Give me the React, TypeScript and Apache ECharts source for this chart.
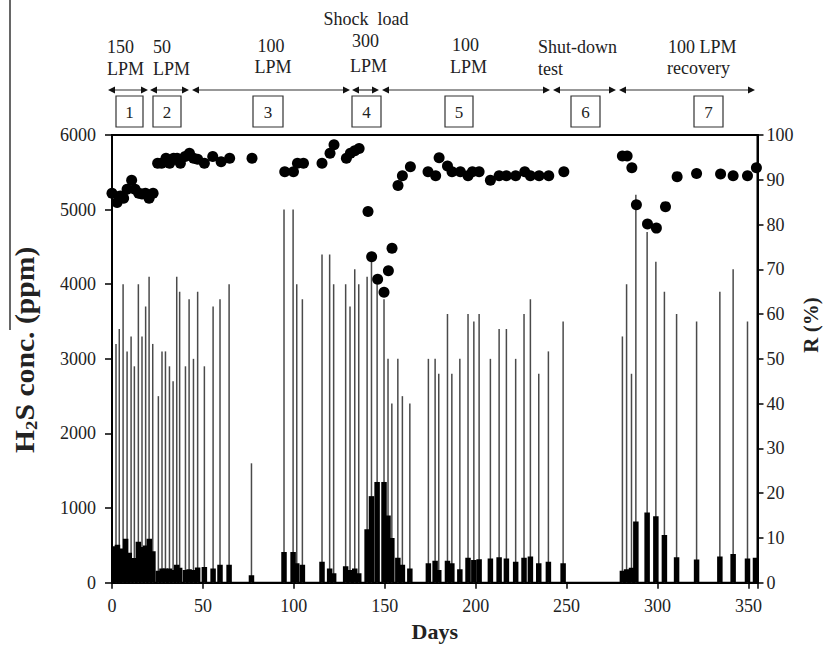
import React, { useEffect, useRef } from 'react';
import * as echarts from 'echarts';

// Inlet H2S concentration (ppm) — thin lines: [day, ppm]
const inletData: [number, number][] = [
  [2.2, 3200], [4, 3400], [6.1, 4000], [8.3, 3100], [10.5, 3300], [12.3, 2900], [14.5, 4000],
  [16.5, 3300], [18.5, 3700], [20.4, 4100], [22.4, 3200], [25.5, 2500], [27.5, 3100], [29.4, 3100],
  [31.6, 2900], [33.6, 2700], [35.6, 4100], [37.2, 3900], [40.4, 2900], [42.4, 3800], [44.8, 3000],
  [47.1, 3900], [50.8, 2900], [55.6, 3700], [59.4, 3800], [64.4, 4000], [76.7, 1600], [94.6, 5000],
  [99.6, 5000], [101.6, 4000], [104.7, 3800], [115.5, 4400], [119.7, 4400], [121.9, 4000],
  [128.5, 4000], [130.9, 3700], [133.5, 4200], [135.7, 4000], [140.3, 4100], [142.7, 4300],
  [145.8, 4000], [149.6, 3800], [151.8, 3000], [153.9, 2400], [157.2, 3000], [159.7, 2500],
  [163.8, 2400], [174, 3000], [177.7, 3000], [179.7, 2800], [184.5, 3600], [186.9, 2800],
  [191.3, 3000], [195.8, 3600], [199, 3500], [201.9, 3600], [208.1, 3000], [212.9, 3400],
  [216.9, 3400], [222, 3000], [226.6, 3600], [230.1, 3800], [234.7, 2800], [240, 3100],
  [248.1, 3500], [280.7, 3300], [283, 4000], [285.7, 2800], [288.1, 5200], [294.3, 4700],
  [299.1, 4300], [303.8, 3900], [310.5, 3600], [321.5, 3500], [334.3, 3900], [341.6, 4200],
  [349.5, 3500],
];

// Outlet H2S concentration (ppm) — thick bars: [day, ppm]
const outletData: [number, number][] = [
  [1, 490], [3, 510], [5, 460], [7.5, 590], [9.5, 400], [12, 330], [14.5, 550], [16.5, 480],
  [18.5, 500], [20.5, 590], [22.5, 420], [25.5, 160], [27.5, 190], [29.4, 190], [31.6, 190],
  [33.6, 170], [35.6, 240], [37.2, 200], [40.4, 170], [42.4, 180], [44.8, 170], [47.1, 205],
  [50.8, 210], [55.6, 190], [59.4, 240], [64.4, 240], [76.7, 100], [94.6, 410], [99.6, 410],
  [101.6, 260], [104.7, 240], [115.5, 280], [119.7, 190], [121.9, 125], [128.5, 220],
  [130.9, 170], [133.5, 190], [135.7, 125], [140.3, 715], [142.7, 1160], [145.8, 1350],
  [149.6, 1350], [151.8, 900], [153.9, 600], [157.2, 335], [159.7, 240], [163.8, 190],
  [174, 260], [177.7, 295], [179.7, 170], [184.5, 295], [186.9, 260], [191.3, 180],
  [195.8, 335], [199, 305], [201.9, 315], [208.1, 325], [212.9, 340], [216.9, 325],
  [222, 280], [226.6, 335], [230.1, 350], [234.7, 260], [240, 280], [248.1, 260],
  [280.7, 160], [283, 180], [285.7, 200], [288.1, 820], [294.3, 940], [299.1, 890],
  [303.8, 640], [310.5, 340], [321.5, 310], [334.3, 350], [341.6, 385], [349.5, 325],
  [353.9, 335],
];

// Removal efficiency R (%) — dots: [day, %]
const removalData: [number, number][] = [
  [0, 87.0], [2.8, 84.9], [4.6, 86.4], [6.4, 85.9], [8.3, 87.9], [10.8, 89.9], [12.7, 87.9],
  [14.7, 87.0], [16.5, 86.8], [18.4, 87.0], [20.4, 85.9], [22.6, 87.0],
  [25.1, 93.7], [27.3, 93.7], [29.7, 94.8], [31.7, 93.7], [33.9, 94.8], [35.8, 94.8],
  [37.6, 93.7], [40.2, 95.2], [42.6, 95.9], [44.9, 94.8], [47.1, 94.6], [50.8, 93.7],
  [55.4, 95.2], [60, 94.0], [64.7, 94.8], [77, 94.8],
  [95, 91.8], [99.8, 91.8], [102, 93.7], [105.3, 93.7], [115.5, 93.7], [119.9, 95.9],
  [122.1, 97.8], [128.9, 94.8], [131.1, 95.9], [133.5, 96.5], [135.9, 97.0],
  [140.8, 82.9], [142.8, 72.8], [146.1, 67.8], [149.6, 64.9], [152, 69.7], [154, 74.7],
  [157.3, 88.7], [159.7, 90.9], [164.1, 92.9], [173.8, 91.8], [178, 90.9], [179.9, 94.9],
  [184.5, 93.1], [187, 91.8], [191.6, 91.8], [195.8, 90.9], [198.2, 91.8], [201.9, 91.8],
  [208.1, 89.9], [212.9, 90.9], [216.9, 90.9], [222, 90.9], [227, 91.8], [230.1, 90.9],
  [234.9, 90.9], [240.2, 90.9], [248.5, 91.8],
  [280.7, 95.3], [283.3, 95.3], [285.9, 92.7], [288.4, 84.4], [294.5, 80.1], [299.4, 79.2],
  [304.4, 84.0], [310.8, 90.7], [321.5, 91.4], [334.7, 91.3], [341.6, 90.9], [349.5, 90.9],
  [354.4, 92.7],
];

// Phase annotations
const phaseNumbers = ['1', '2', '3', '4', '5', '6', '7'];
const phaseBoxX: [number, number][] = [
  [116, 143], [153, 181], [253, 283], [352, 381], [445, 473], [571, 600], [694, 723],
];
const phaseArrowX: [number, number][] = [
  [108, 148], [150, 189], [192, 350], [352, 379], [382, 550], [553, 616], [619, 755],
];
const phaseLabels: { text: string; x: number; y: number; align: string }[] = [
  { text: '150', x: 107, y: 47, align: 'left' },
  { text: 'LPM', x: 107, y: 69, align: 'left' },
  { text: '50', x: 153, y: 47, align: 'left' },
  { text: 'LPM', x: 153, y: 69, align: 'left' },
  { text: '100', x: 271, y: 46, align: 'center' },
  { text: 'LPM', x: 273, y: 67, align: 'center' },
  { text: 'Shock  load', x: 366, y: 19, align: 'center' },
  { text: '300', x: 352, y: 41, align: 'left' },
  { text: 'LPM', x: 350, y: 66, align: 'left' },
  { text: '100', x: 452, y: 45, align: 'left' },
  { text: 'LPM', x: 450, y: 67, align: 'left' },
  { text: 'Shut-down', x: 538, y: 47, align: 'left' },
  { text: 'test', x: 538, y: 69, align: 'left' },
  { text: '100 LPM', x: 668, y: 47, align: 'left' },
  { text: 'recovery', x: 667, y: 68, align: 'left' },
];

const SERIF = '"Liberation Serif", "Times New Roman", serif';

const rectRender = (w: number, color: string) => (params: any, api: any) => {
  const d = api.value(0);
  const v = api.value(1);
  const p0 = api.coord([d, 0]);
  const p1 = api.coord([d, v]);
  return {
    type: 'rect',
    shape: { x: p0[0] - w / 2, y: p1[1], width: w, height: p0[1] - p1[1] },
    style: { fill: color },
  };
};

export default function App() {
  const ref = useRef<HTMLDivElement>(null);

  useEffect(() => {
    if (!ref.current) return;
    const chart = echarts.init(ref.current, undefined, { renderer: 'svg' });

    const graphics: any[] = [];
    // artifact vertical line at far left
    graphics.push({
      type: 'line',
      shape: { x1: 10, y1: 0, x2: 10, y2: 330 },
      style: { stroke: '#000', lineWidth: 1.2 },
    });
    phaseLabels.forEach((l) => {
      graphics.push({
        type: 'text',
        x: l.x,
        y: l.y,
        style: {
          text: l.text,
          fontFamily: SERIF,
          fontSize: 18,
          fill: '#222',
          align: l.align,
          verticalAlign: 'middle',
        },
      });
    });
    const ay = 90;
    phaseArrowX.forEach(([x1, x2]) => {
      graphics.push({
        type: 'line',
        shape: { x1: x1 + 3, y1: ay, x2: x2 - 3, y2: ay },
        style: { stroke: '#333', lineWidth: 1.2 },
      });
      graphics.push({
        type: 'polygon',
        shape: { points: [[x1, ay], [x1 + 7, ay - 3.5], [x1 + 7, ay + 3.5]] },
        style: { fill: '#111' },
      });
      graphics.push({
        type: 'polygon',
        shape: { points: [[x2, ay], [x2 - 7, ay - 3.5], [x2 - 7, ay + 3.5]] },
        style: { fill: '#111' },
      });
    });
    phaseBoxX.forEach(([x1, x2], i) => {
      graphics.push({
        type: 'rect',
        shape: { x: x1, y: 96, width: x2 - x1, height: 31 },
        style: { fill: '#fff', stroke: '#333', lineWidth: 1.2 },
      });
      graphics.push({
        type: 'text',
        x: (x1 + x2) / 2,
        y: 112,
        style: {
          text: phaseNumbers[i],
          fontFamily: SERIF,
          fontSize: 17,
          fill: '#222',
          align: 'center',
          verticalAlign: 'middle',
        },
      });
    });
    // axis titles
    graphics.push({
      type: 'text',
      x: 25,
      y: 453,
      rotation: Math.PI / 2,
      scaleX: 1.1,
      style: {
        text: '{b|H}{s|2}{b|S conc. (ppm)}',
        align: 'left',
        verticalAlign: 'middle',
        rich: {
          b: { fontFamily: SERIF, fontSize: 27, fontWeight: 'bold', fill: '#222' },
          s: { fontFamily: SERIF, fontSize: 17, fontWeight: 'bold', fill: '#222', padding: [12, 0, 0, 0] },
        },
      },
    });
    graphics.push({
      type: 'text',
      x: 811,
      y: 325,
      rotation: Math.PI / 2,
      style: {
        text: 'R (%)',
        fontFamily: SERIF,
        fontSize: 21,
        fontWeight: 'bold',
        fill: '#222',
        align: 'center',
        verticalAlign: 'middle',
      },
    });

    chart.setOption({
      animation: false,
      backgroundColor: '#fff',
      grid: {
        left: 112,
        right: 76.5,
        top: 135,
        bottom: 69.3,
        show: true,
        borderColor: '#000',
        borderWidth: 2,
        outerBoundsMode: 'none',
      },
      xAxis: {
        type: 'value',
        min: 0,
        max: 355,
        interval: 50,
        name: 'Days',
        nameLocation: 'middle',
        nameGap: 38,
        nameTextStyle: { fontFamily: SERIF, fontSize: 22, fontWeight: 'bold', color: '#222' },
        axisLine: { show: true, lineStyle: { color: '#000', width: 2 } },
        axisTick: { show: true, inside: false, length: 6, lineStyle: { color: '#000', width: 1.5 } },
        axisLabel: {
          fontFamily: SERIF,
          fontSize: 18,
          color: '#222',
          margin: 14,
          formatter: (v: number) => (v % 50 === 0 ? String(v) : ''),
        },
        splitLine: { show: false },
      },
      yAxis: [
        {
          type: 'value',
          min: 0,
          max: 6000,
          interval: 1000,
          axisLine: { show: true, lineStyle: { color: '#000', width: 2 } },
          axisTick: { show: true, inside: false, length: 7, lineStyle: { color: '#000', width: 1.5 } },
          axisLabel: {
            fontFamily: SERIF,
            fontSize: 18,
            color: '#222',
            margin: 16,
            formatter: (v: number) => String(v),
          },
          splitLine: { show: false },
        },
        {
          type: 'value',
          min: 0,
          max: 100,
          interval: 10,
          position: 'right',
          axisLine: { show: true, lineStyle: { color: '#000', width: 2 } },
          axisTick: { show: true, inside: false, length: 6, lineStyle: { color: '#000', width: 1.5 } },
          axisLabel: {
            fontFamily: SERIF,
            fontSize: 18,
            color: '#222',
            margin: 9,
            formatter: (v: number) => String(v),
          },
          splitLine: { show: false },
        },
      ],
      series: [
        {
          type: 'custom',
          name: 'Inlet',
          renderItem: rectRender(1.5, '#4a4a4a'),
          data: inletData,
          encode: { x: 0, y: 1 },
          clip: true,
        },
        {
          type: 'custom',
          name: 'Outlet',
          renderItem: rectRender(5.5, '#000'),
          data: outletData,
          encode: { x: 0, y: 1 },
          clip: true,
        },
        {
          type: 'scatter',
          name: 'R',
          yAxisIndex: 1,
          symbol: 'circle',
          symbolSize: 11,
          itemStyle: { color: '#000', opacity: 1 },
          data: removalData,
          clip: false,
        },
      ],
      graphic: graphics,
    });

    return () => {
      chart.dispose();
    };
  }, []);

  return (
    <div
      ref={ref}
      style={{ position: 'fixed', left: 0, top: 0, width: 834, height: 652, background: '#fff' }}
    />
  );
}
